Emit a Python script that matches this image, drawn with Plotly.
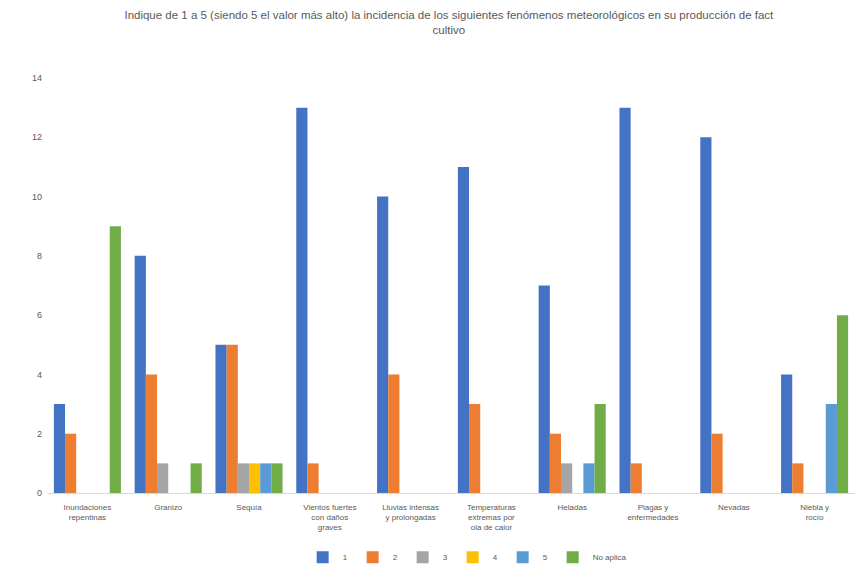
import plotly.graph_objects as go

categories = [
    "Inundaciones<br>repentinas",
    "Granizo",
    "Sequía",
    "Vientos fuertes<br>con daños<br>graves",
    "Lluvias intensas<br>y prolongadas",
    "Temperaturas<br>extremas por<br>ola de calor",
    "Heladas",
    "Plagas y<br>enfermedades",
    "Nevadas",
    "Niebla y<br>rocío",
]

series_names = ["1", "2", "3", "4", "5", "No aplica"]

values_1 = [3, 8, 5, 13, 10, 11, 7, 13, 12, 4]
values_2 = [2, 4, 5, 1, 4, 3, 2, 1, 2, 1]
values_3 = [0, 1, 1, 0, 0, 0, 1, 0, 0, 0]
values_4 = [0, 0, 1, 0, 0, 0, 0, 0, 0, 0]
values_5 = [0, 0, 1, 0, 0, 0, 1, 0, 0, 3]
values_6 = [9, 1, 1, 0, 0, 0, 3, 0, 0, 6]

colors = ["#4472C4", "#ED7D31", "#A5A5A5", "#FFC000", "#5B9BD5", "#70AD47"]

title_text = ("Indique de 1 a 5 (siendo 5 el valor más alto) la incidencia de los siguientes "
              "fenómenos meteorológicos en su producción de fact<br>cultivo")

fig = go.Figure()
for name, vals, col in zip(series_names,
                           [values_1, values_2, values_3, values_4, values_5, values_6],
                           colors):
    fig.add_trace(go.Bar(name=name, x=categories, y=vals, marker_color=col,
                         marker_line_width=0))

fig.update_layout(
    width=855, height=569,
    margin=dict(l=47, r=0, t=78, b=76, autoexpand=False),
    paper_bgcolor="white", plot_bgcolor="white",
    barmode="group", bargap=0.17, bargroupgap=0,
    font=dict(family="Liberation Sans, Arial, sans-serif", size=9, color="#595959"),
    title=dict(text=title_text, x=0.525, xanchor="center", y=0.966, yanchor="top",
               font=dict(size=11.5, color="#595959")),
    legend=dict(orientation="h", x=0.52, xanchor="center", y=-0.155, yanchor="middle",
                font=dict(size=8, color="#595959"), itemwidth=30, tracegroupgap=0),
    showlegend=True,
)
fig.update_xaxes(showline=True, linecolor="#D9D9D9", linewidth=1, ticks="",
                 tickangle=0, ticklabelstandoff=6, tickfont=dict(size=8, color="#595959"))
fig.update_yaxes(range=[0, 14], dtick=2, showgrid=False, zeroline=False,
                 showline=False, ticks="", ticklabelstandoff=4,
                 tickfont=dict(size=9, color="#595959"))

fig.write_html("out.html")
